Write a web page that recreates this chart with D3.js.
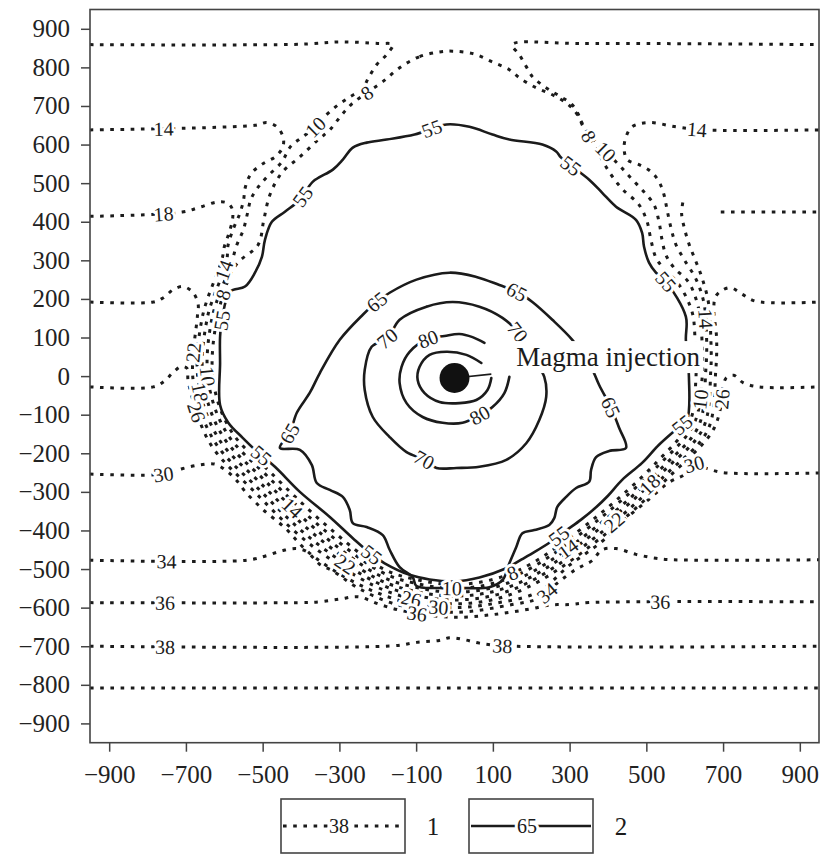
<!DOCTYPE html>
<html>
<head>
<meta charset="utf-8">
<script src="https://cdn.jsdelivr.net/npm/d3@7"></script>
<style>
  body { margin: 0; background: #fff; }
  svg { display: block; }
  text { font-family: "Liberation Serif", "Times New Roman", serif; }
</style>
</head>
<body>
<svg id="chart" width="822" height="855"></svg>
<script>
// ---------- axis ticks ----------
const xTicks = [-900, -700, -500, -300, -100, 100, 300, 500, 700, 900];
const yTicks = [-900, -800, -700, -600, -500, -400, -300, -200, -100, 0,
                100, 200, 300, 400, 500, 600, 700, 800, 900];

// ---------- isoline geometry (x, y in model units) ----------
// series 1: dotted isolines
const c8 = [[-143,799],[-91,828],[-40,840],[-5,842],[50,835],[99,814],[143,794],[169,773],[213,747],[255,729],
  [291,708],[317,682],[351,620],[377,574],[408,522],[439,483],[481,444],[502,400],[512,353],[525,307],[548,276],
  [585,237],[619,167],[627,94],[629,-10],[613,-119],[527,-223],[372,-363],[195,-489],[100,-527],[0,-540],
  [-100,-527],[-187,-499],[-334,-387],[-477,-252],[-583,-141],[-629,-11],[-619,148],[-571,286],[-512,340],
  [-497,405],[-481,470],[-450,527],[-403,568],[-356,612],[-325,638],[-294,677],[-268,705],[-229,734],[-187,763]];

const c10 = [[-950,859],[-400,860],[-299,866],[-200,862],[-161,859],[-177,833],[-202,808],[-223,775],[-241,744],
  [-275,722],[-311,697],[-345,666],[-363,645],[-397,619],[-428,594],[-450,555],[-484,521],[-510,492],[-530,460],
  [-540,420],[-550,380],[-568,338],[-582,291],[-632,150],[-642,-11],[-594,-147],[-486,-261],[-343,-396],
  [-192,-507],[-102,-537],[0,-550],[102,-537],[200,-497],[378,-370],[533,-230],[624,-124],[645,-10],[645,94],
  [637,172],[611,242],[572,281],[551,314],[541,353],[533,400],[520,444],[494,477],[460,513],[429,547],[395,581],
  [364,612],[333,651],[322,680],[305,705],[280,722],[250,740],[225,757],[203,776],[187,802],[169,833],[151,859],
  [330,862],[950,859]];

const c14 = [[-950,638],[-520,650],[-489,657],[-463,646],[-447,620],[-447,595],[-465,570],[-500,550],[-530,525],
  [-545,490],[-550,455],[-560,420],[-575,385],[-590,340],[-594,297],[-644,152],[-655,-12],[-605,-154],[-495,-270],
  [-352,-405],[-197,-516],[-104,-547],[0,-560],[104,-547],[205,-506],[385,-378],[540,-238],[636,-130],[655,16],
  [657,100],[650,190],[630,250],[600,300],[577,341],[564,385],[554,431],[546,470],[533,504],[512,530],[481,548],
  [450,561],[442,591],[447,620],[463,646],[507,657],[577,646],[650,638],[950,638]];

const c18 = [[-950,414],[-710,425],[-663,438],[-619,451],[-593,449],[-580,435],[-578,410],[-588,370],[-600,335],
  [-606,302],[-657,154],[-668,-13],[-616,-160],[-504,-279],[-361,-414],[-202,-525],[-106,-557],[0,-570],
  [106,-557],[210,-515],[391,-385],[546,-245],[648,-135],[668,16],[668,100],[662,190],[645,255],[628,300],
  [612,340],[600,380],[592,420],[595,450]];
const c18East = [[694,425],[950,425]];

const c22 = [[-950,192],[-785,192],[-759,203],[-733,224],[-707,232],[-681,216],[-668,185],[-670,156],[-681,-13],
  [-627,-167],[-514,-289],[-371,-424],[-207,-533],[-108,-567],[0,-580],[108,-567],[215,-523],[398,-393],
  [553,-253],[660,-140],[681,16],[683,100],[676,170],[680,205],[697,222],[720,229],[750,212],[785,194],[950,192]];

const c26 = [[-950,-28],[-785,-28],[-755,-12],[-735,8],[-712,25],[-697,20],[-694,-14],[-638,-173],[-523,-298],
  [-380,-433],[-212,-542],[-110,-577],[0,-590],[110,-577],[220,-532],[404,-401],[559,-261],[671,-145],[694,-80],
  [700,-30],[708,-5],[728,2],[752,-17],[793,-28],[950,-28]];

const c30 = [[-950,-254],[-757,-254],[-710,-240],[-663,-230],[-625,-228],[-595,-245],[-570,-268],[-545,-300],
  [-500,-345],[-440,-395],[-390,-448],[-320,-500],[-217,-555],[-110,-590],[0,-600],[110,-588],[217,-560],
  [300,-490],[385,-428],[440,-375],[500,-325],[560,-275],[600,-255],[624,-228],[660,-240],[700,-250],[950,-251]];

const c34 = [[-950,-477],[-541,-477],[-489,-465],[-447,-452],[-411,-447],[-385,-455],[-369,-470],[-351,-488],
  [-317,-505],[-250,-550],[-150,-592],[0,-612],[150,-592],[222,-575],[270,-535],[310,-505],[333,-492],
  [359,-478],[385,-450],[421,-447],[473,-462],[525,-472],[570,-476],[950,-476]];

const c36 = [[-950,-587],[-400,-587],[-351,-585],[-300,-578],[-250,-572],[-200,-590],[-150,-605],[-99,-615],
  [0,-625],[100,-618],[200,-603],[250,-593],[300,-592],[350,-587],[950,-585]];

const c38 = [[-950,-700],[-160,-699],[-99,-690],[-40,-685],[-13,-678],[21,-682],[65,-692],[130,-699],[950,-700]];

const c40 = [[-950,-808],[950,-808]];

// series 2: solid isolines
const c55 = [[-611,34],[-611,102],[-606,146],[-585,219],[-546,232],[-520,268],[-502,309],[-494,353],[-476,400],
  [-442,426],[-403,457],[-369,504],[-317,535],[-291,561],[-265,592],[-229,605],[-177,613],[-104,626],[-21,652],
  [39,646],[99,626],[143,613],[229,600],[265,582],[278,566],[351,509],[385,475],[421,439],[473,405],[489,371],
  [494,335],[507,294],[525,268],[551,245],[603,154],[603,94],[611,-2],[606,-114],[585,-132],[533,-178],
  [489,-225],[437,-269],[400,-310],[369,-340],[330,-372],[291,-400],[250,-430],[210,-455],[175,-475],
  [130,-500],[65,-522],[0,-532],[-65,-527],[-117,-515],[-182,-485],[-216,-462],[-265,-420],[-325,-365],
  [-403,-300],[-468,-235],[-510,-200],[-552,-160],[-590,-120],[-611,-75]];

const c65 = [[-411,-95],[-377,-43],[-351,8],[-299,94],[-239,159],[-203,192],[-169,216],[-99,250],[-13,268],
  [57,257],[117,236],[164,218],[203,192],[255,146],[307,94],[351,34],[377,-23],[408,-82],[429,-134],[447,-186],
  [403,-194],[369,-210],[356,-243],[351,-274],[317,-290],[291,-313],[268,-339],[260,-368],[247,-386],[208,-399],
  [177,-407],[161,-443],[143,-485],[125,-529],[91,-547],[13,-549],[-31,-549],[-99,-544],[-109,-521],[-143,-495],
  [-169,-450],[-187,-412],[-229,-391],[-265,-381],[-273,-347],[-291,-313],[-325,-295],[-359,-277],[-372,-230],
  [-403,-191],[-455,-186],[-429,-147]];

const c70 = [[-143,146],[-73,180],[-5,192],[65,180],[125,151],[164,115],[203,50],[234,-2],[239,-54],[221,-114],
  [187,-174],[135,-217],[65,-235],[5,-238],[-47,-238],[-78,-217],[-125,-197],[-169,-158],[-213,-106],[-234,-36],
  [-234,16],[-216,76],[-174,99]];

const c80 = [[78,86],[47,101],[13,109],[-26,104],[-70,96],[-117,63],[-138,24],[-143,-18],[-125,-70],[-83,-106],
  [-31,-121],[21,-121],[65,-101],[99,-80],[130,-44],[143,-2]];

const cInner = [[70,34],[31,55],[-21,63],[-65,55],[-91,24],[-96,-10],[-78,-44],[-39,-67],[13,-70],[57,-62],
  [86,-36],[96,-5]];

// label anchors (model units) for each isoline
const lab8  = [[-234,742],[351,620],[-580,203],[135,-470]];
const lab10 = [[-356,638],[395,581],[-640,-2],[-8,-550],[640,-62]];
const lab14 = [[-757,638],[632,638],[-603,276],[-420,-340],[291,-440],[656,150]];
const lab18 = [[-757,414],[-664,-44],[507,-280]];
const lab22 = [[-676,60],[-280,-480],[403,-365]];
const lab26 = [[-670,-93],[-109,-570],[690,-60]];
const lab30 = [[-757,-254],[624,-228],[-40,-600]];
const lab34 = [[-751,-477],[242,-560]];
const lab36 = [[-754,-587],[-99,-615],[538,-585]];
const lab38 = [[-754,-700],[125,-699]];
const lab55 = [[-60,640],[-395,465],[307,548],[551,245],[-611,146],[-507,-212],[-216,-462],[590,-125],[278,-420]];
const lab65 = [[-203,192],[164,218],[408,-82],[-429,-147]];
const lab70 = [[-174,99],[164,115],[-78,-217]];
const lab80 = [[-70,96],[65,-101]];

// magma injection point
const magma = { label: "Magma injection", x: 0, y: -5, r: 39, lead: [96, 5], tx: 161, ty: 26 };

// legend entries
const legendItems = [
  { key: "1", level: 38, kind: "dotted" },
  { key: "2", level: 65, kind: "solid" }
];

const isolines = [
  { level: 8,  kind: "dotted", closed: true,  pts: c8,  labels: lab8 },
  { level: 10, kind: "dotted", closed: false, pts: c10, labels: lab10 },
  { level: 14, kind: "dotted", closed: false, pts: c14, labels: lab14 },
  { level: 18, kind: "dotted", closed: false, pts: c18, labels: lab18 },
  { level: 18, kind: "dotted", closed: false, pts: c18East, labels: [] },
  { level: 22, kind: "dotted", closed: false, pts: c22, labels: lab22 },
  { level: 26, kind: "dotted", closed: false, pts: c26, labels: lab26 },
  { level: 30, kind: "dotted", closed: false, pts: c30, labels: lab30 },
  { level: 34, kind: "dotted", closed: false, pts: c34, labels: lab34 },
  { level: 36, kind: "dotted", closed: false, pts: c36, labels: lab36 },
  { level: 38, kind: "dotted", closed: false, pts: c38, labels: lab38 },
  { level: 40, kind: "dotted", closed: false, pts: c40, labels: [] },
  { level: 55, kind: "solid",  closed: true,  pts: c55, labels: lab55 },
  { level: 65, kind: "solid",  closed: true,  pts: c65, labels: lab65 },
  { level: 70, kind: "solid",  closed: true,  pts: c70, labels: lab70 },
  { level: 80, kind: "solid",  closed: false, pts: c80, labels: lab80 },
  { level: 90, kind: "solid",  closed: false, pts: cInner, labels: [] }
];

// ---------- layout ----------
const plot = { left: 90, right: 819, top: 9.5, bottom: 742.7 };
const INK = "#1b1b1b";

const x = d3.scaleLinear().domain([-950, 950]).range([plot.left, plot.right]);
const y = d3.scaleLinear().domain([-950, 950]).range([plot.bottom, plot.top]);

const svg = d3.select("#chart");
svg.append("defs").append("clipPath").attr("id", "plotClip")
  .append("rect")
  .attr("x", plot.left).attr("y", plot.top)
  .attr("width", plot.right - plot.left).attr("height", plot.bottom - plot.top);

const lineOpen = d3.line().x(d => x(d[0])).y(d => y(d[1])).curve(d3.curveCatmullRom.alpha(0.5));
const lineClosed = d3.line().x(d => x(d[0])).y(d => y(d[1])).curve(d3.curveCatmullRomClosed.alpha(0.5));

function styleStroke(sel, kind) {
  if (kind === "dotted") {
    sel.attr("stroke", INK).attr("stroke-width", 3).attr("stroke-dasharray", "3.6 6.6");
  } else {
    sel.attr("stroke", INK).attr("stroke-width", 2.6).attr("stroke-linecap", "round");
  }
  return sel;
}

const field = svg.append("g").attr("clip-path", "url(#plotClip)");
const lineLayer = field.append("g");
const labelLayer = field.append("g");

function addLabel(layer, text, px, py, angle, size) {
  layer.append("text")
    .attr("transform", `translate(${px},${py}) rotate(${angle})`)
    .attr("text-anchor", "middle")
    .attr("dominant-baseline", "central")
    .attr("font-size", size)
    .attr("fill", INK)
    .attr("stroke", "#fff")
    .attr("stroke-width", 6)
    .attr("stroke-linejoin", "round")
    .attr("paint-order", "stroke")
    .text(text);
}

isolines.forEach(iso => {
  const path = lineLayer.append("path")
    .attr("d", (iso.closed ? lineClosed : lineOpen)(iso.pts))
    .attr("fill", "none");
  styleStroke(path, iso.kind);

  if (!iso.labels.length) return;
  const node = path.node();
  const L = node.getTotalLength();
  const samples = [];
  for (let s = 0; s <= L; s += 1.5) {
    const p = node.getPointAtLength(s);
    samples.push({ s, x: p.x, y: p.y });
  }
  iso.labels.forEach(([lx, ly]) => {
    const tx = x(lx), ty = y(ly);
    let best = samples[0], bd = Infinity;
    samples.forEach(p => {
      const d = (p.x - tx) ** 2 + (p.y - ty) ** 2;
      if (d < bd) { bd = d; best = p; }
    });
    const a = node.getPointAtLength(Math.max(0, best.s - 6));
    const b = node.getPointAtLength(Math.min(L, best.s + 6));
    let ang = Math.atan2(b.y - a.y, b.x - a.x) * 180 / Math.PI;
    if (ang > 90) ang -= 180;
    if (ang < -90) ang += 180;
    addLabel(labelLayer, String(iso.level), best.x, best.y, ang, 20);
  });
});

// magma injection marker and caption
const magG = field.append("g");
const cap = magG.append("text")
  .attr("x", x(magma.tx)).attr("y", y(magma.ty))
  .attr("font-size", 27).attr("fill", INK)
  .text(magma.label);
const bb = cap.node().getBBox();
magG.insert("rect", "text")
  .attr("x", bb.x - 3).attr("y", bb.y - 1)
  .attr("width", bb.width + 6).attr("height", bb.height + 2)
  .attr("fill", "#fff");
magG.append("line")
  .attr("x1", x(magma.x)).attr("y1", y(magma.y))
  .attr("x2", x(magma.lead[0])).attr("y2", y(magma.lead[1]))
  .attr("stroke", INK).attr("stroke-width", 1.6);
magG.append("circle")
  .attr("cx", x(magma.x)).attr("cy", y(magma.y))
  .attr("r", x(magma.r) - x(0))
  .attr("fill", "#111");

// ---------- axes ----------
const tickFmt = d3.format("d");
const yAxis = d3.axisLeft(y).tickValues(yTicks).tickSize(9).tickPadding(11).tickFormat(tickFmt);
const xAxis = d3.axisBottom(x).tickValues(xTicks).tickSize(9).tickPadding(14).tickFormat(tickFmt);

const gy = svg.append("g").attr("transform", `translate(${plot.left},0)`).call(yAxis);
const gx = svg.append("g").attr("transform", `translate(0,${plot.bottom})`).call(xAxis);
[gx, gy].forEach(g => {
  g.select(".domain").remove();
  g.selectAll(".tick line").attr("stroke", "#444").attr("stroke-width", 1.5);
  g.selectAll(".tick text").attr("font-size", 25).attr("fill", "#222")
    .attr("font-family", "\"Liberation Serif\", \"Times New Roman\", serif");
});

svg.append("rect")
  .attr("x", plot.left).attr("y", plot.top)
  .attr("width", plot.right - plot.left).attr("height", plot.bottom - plot.top)
  .attr("fill", "none").attr("stroke", "#444").attr("stroke-width", 1.6);

// ---------- legend ----------
const legend = svg.append("g");
const boxW = 124, boxH = 54, boxTop = 799, firstLeft = 281, step = 188;
legendItems.forEach((item, i) => {
  const left = firstLeft + i * step;
  const mid = boxTop + boxH / 2;
  const g = legend.append("g");
  g.append("rect")
    .attr("x", left).attr("y", boxTop).attr("width", boxW).attr("height", boxH)
    .attr("fill", "#fff").attr("stroke", "#444").attr("stroke-width", 1.6);
  const ln = g.append("line")
    .attr("x1", left + 2).attr("x2", left + boxW - 2)
    .attr("y1", mid).attr("y2", mid);
  styleStroke(ln, item.kind);
  if (item.kind === "solid") ln.attr("stroke-linecap", "butt");
  addLabel(g, String(item.level), left + boxW / 2 - 4, mid, 0, 20);
  g.append("text")
    .attr("x", left + boxW + 28).attr("y", mid)
    .attr("text-anchor", "middle").attr("dominant-baseline", "central")
    .attr("font-size", 25).attr("fill", INK)
    .text(item.key);
});
</script>
</body>
</html>
